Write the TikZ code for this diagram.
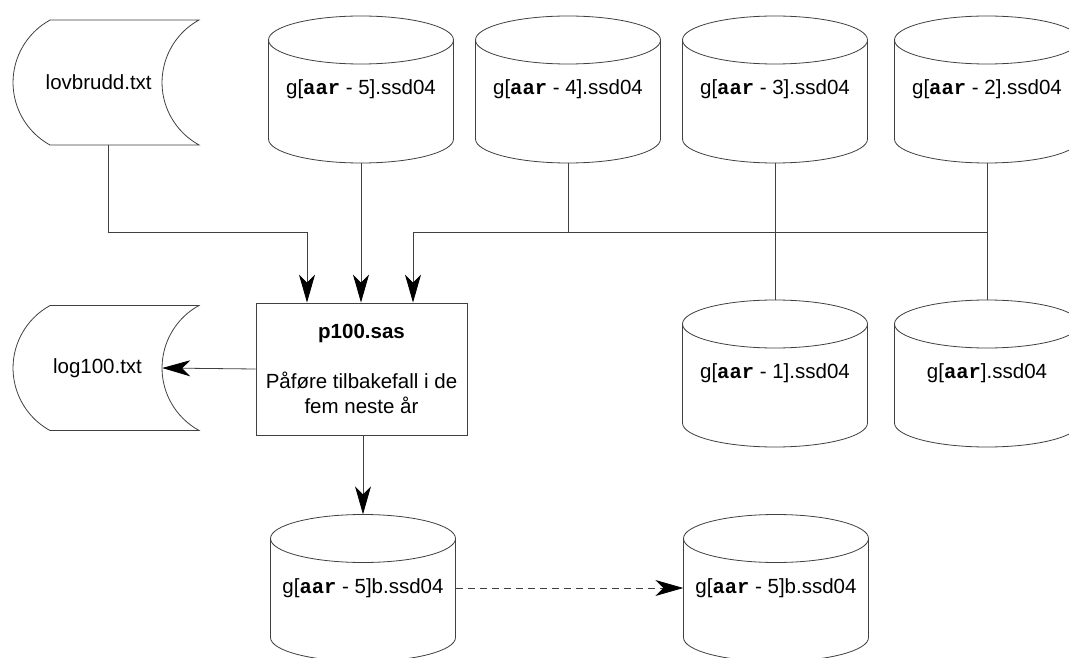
\documentclass[tikz,border=0pt]{standalone}
\usepackage{fontspec}
\setmainfont{Liberation Sans}
\setmonofont{Liberation Mono}
\usetikzlibrary{arrows.meta}
\newcommand\kaar{\texttt{\bfseries aar}}
\newcommand\dbcyl[4]{% name, cx, cy, text
  \node[cyltext] (#1) at (#2,#3) {#4};
  \draw[outline] (#2-92.5,#3-49.5) -- (#2-92.5,#3+49.5)
     arc[start angle=180,end angle=0,x radius=92.5,y radius=24] -- (#2+92.5,#3-49.5);
  \draw[outline] (#2,#3-49.5) ellipse[x radius=92.5,y radius=24];
}
\newcommand\filesh[1]{% cy
  \draw[outline] (50,#1-62.5) -- (199,#1-62.5)
     arc[start angle=241.2,end angle=118.8,radius=71.3]
     -- (50,#1+62.5)
     arc[start angle=118.8,end angle=241.2,radius=71.3] -- cycle;
}
\tikzset{
  basefont/.style={font=\fontsize{20.5pt}{25pt}\selectfont},
  outline/.style={draw=black!75,line width=0.8pt},
  cyltext/.style={basefont,minimum width=185pt,minimum height=147pt,inner sep=0pt},
  filetext/.style={basefont,minimum height=125pt,inner sep=0pt},
  procbox/.style={basefont,outline,minimum width=211pt,minimum height=132pt,align=center,inner sep=0pt},
  conn/.style={draw=black!75,line width=0.8pt},
  arrowhd/.style={-{Stealth[length=28pt,width=16pt,inset=8pt,color=black]}},
}
\begin{document}
\begin{tikzpicture}[x=1pt,y=-1pt]
\clip (0,0) rectangle (1069,658);
\fill[white] (0,0) rectangle (1069,658);

% file shapes
\filesh{82.5}
\node[filetext,minimum width=182pt] (lov) at (108,82.5) {lovbrudd.txt\hspace*{18.6pt}};
\filesh{368}
\node[filetext,minimum width=149pt] (log) at (87.5,368) {\hspace*{20pt}log100.txt};

% cylinders
\dbcyl{c5}{361}{89.5}{g[\kaar{} - 5].ssd04}
\dbcyl{c4}{568}{89.5}{g[\kaar{} - 4].ssd04}
\dbcyl{c3}{775}{89.5}{g[\kaar{} - 3].ssd04}
\dbcyl{c2}{987}{89.5}{g[\kaar{} - 2].ssd04}
\dbcyl{c1}{775}{373.5}{g[\kaar{} - 1].ssd04}
\dbcyl{c0}{987}{373.5}{g[\kaar].ssd04}
\dbcyl{b1}{363}{588}{g[\kaar{} - 5]b.ssd04}
\dbcyl{b2}{776}{588}{g[\kaar{} - 5]b.ssd04}

% process box
\node[procbox] (p) at (361.5,369) {\textbf{p100.sas}\\[25pt]Påføre tilbakefall i de\\fem neste år};

% junctions
\coordinate (j1) at (307,232);
\coordinate (j3) at (413,232);

% connectors
\draw[conn,arrowhd] (lov.south) |- (j1) -- (j1 |- p.north);
\draw[conn,arrowhd] (c5.south) -- (c5.south |- p.north);
\draw[conn] (c3.south) -- (c1.north);
\draw[conn] (c2.south) -- (c0.north);
\draw[conn] (c4.south) -- (c4.south |- j3);
\draw[conn,arrowhd] (c2.south |- j3) -- (j3) -- (j3 |- p.north);
\draw[conn,arrowhd] (p.west) -- (log.east);
\draw[conn,arrowhd] (p.south) -- (p.south -| b1.north) -- (b1.north);
\draw[conn,arrowhd,dash pattern=on 7pt off 5pt] (b1.east) -- (b2.west);
\end{tikzpicture}
\end{document}
